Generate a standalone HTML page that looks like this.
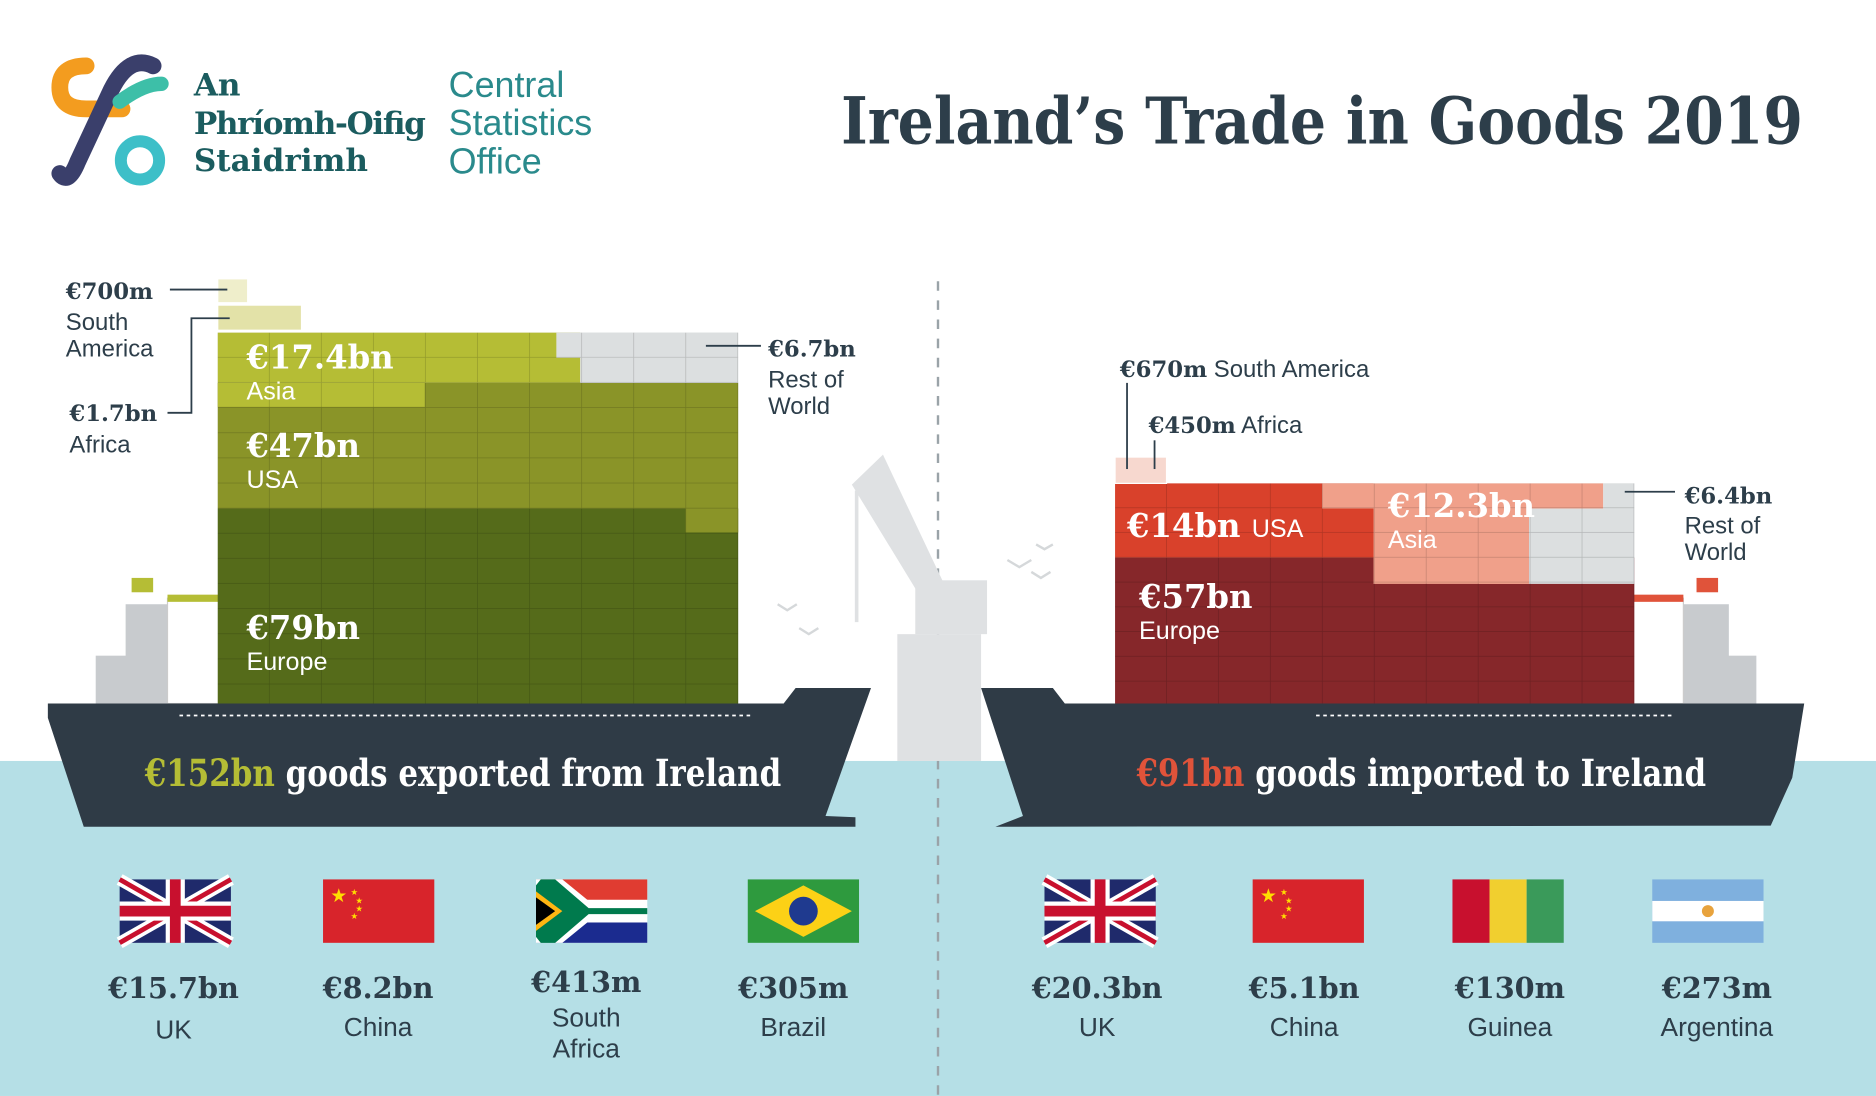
<!DOCTYPE html>
<html><head><meta charset="utf-8"><style>
html,body{margin:0;padding:0;background:#fff;}
svg{display:block}
.sl{font-family:"DejaVu Serif","Liberation Serif",serif;font-weight:bold;}
.sn{font-family:"Liberation Sans",sans-serif;}
</style></head><body>
<svg width="1876" height="1096" viewBox="0 0 1568 916" xmlns="http://www.w3.org/2000/svg">
<defs>
<pattern id="g" width="43.5" height="21" patternUnits="userSpaceOnUse" x="182" y="278">
<path d="M43.5 0V21M0 21H43.5" stroke="rgba(0,0,0,0.18)" stroke-width="1.2" fill="none"/>
</pattern>
<pattern id="r" width="43.4" height="20.7" patternUnits="userSpaceOnUse" x="932" y="404">
<path d="M43.4 0V20.7M0 20.7H43.4" stroke="rgba(0,0,0,0.18)" stroke-width="1.2" fill="none"/>
</pattern>
</defs>
<rect width="1568" height="916" fill="#fff"/>
<rect y="636" width="1568" height="280" fill="#b5dfe6"/>
<line x1="784" y1="235" x2="784" y2="916" stroke="#9aa3a8" stroke-width="2" stroke-dasharray="8,8"/>

<!-- logo -->
<path d="M72 55 q-22 0 -22 18 q0 18 22 18 h30" stroke="#f39c1f" stroke-width="14" fill="none" stroke-linecap="round"/>
<path d="M128 55 q-20 -10 -35 20 l-28 60 q-8 20 -15 10" stroke="#3a3f6b" stroke-width="14" fill="none" stroke-linecap="round"/>
<path d="M100 85 q20 -15 35 -15" stroke="#3dbfa8" stroke-width="12" fill="none" stroke-linecap="round"/>
<circle cx="117" cy="134" r="16" fill="none" stroke="#3dbfc8" stroke-width="10"/>
<g class="sl" fill="#1b5c5f" font-size="26">
<text x="162" y="80">An</text>
<text x="162" y="112" textLength="194">Phríomh-Oifig</text>
<text x="162" y="143">Staidrimh</text>
</g>
<g class="sn" fill="#2a8a8c" font-size="30">
<text x="375" y="81">Central</text>
<text x="375" y="113">Statistics</text>
<text x="375" y="145">Office</text>
</g>
<text x="703" y="120" class="sl" font-size="54" fill="#2d3e4a" textLength="804" lengthAdjust="spacingAndGlyphs">Ireland’s Trade in Goods 2019</text>

<!-- crane -->
<g fill="#dfe1e3">
<polygon points="712,405 738,380 790,490 770,500"/>
<rect x="765" y="485" width="60" height="45"/>
<rect x="750" y="530" width="70" height="106"/>
<line x1="716" y1="410" x2="716" y2="520" stroke="#dfe1e3" stroke-width="3"/>
</g>
<g fill="none" stroke="#d5d8da" stroke-width="2">
<path d="M650 505 l8 5 l8 -5"/><path d="M668 525 l8 5 l8 -5"/>
<path d="M842 468 l10 6 l10 -6"/><path d="M862 478 l8 5 l8 -5"/><path d="M866 455 l7 4 l7 -4"/>
</g>

<!-- export ship superstructure -->
<rect x="80" y="548" width="30" height="40" fill="#c8cbce"/>
<rect x="105" y="505" width="40" height="83" fill="#c8cbce"/>
<rect x="140" y="500" width="45" height="88" fill="#fff" stroke="#ccc"/>
<rect x="110" y="483" width="18" height="12" fill="#b5bd35"/>
<rect x="140" y="497" width="45" height="6" fill="#b5bd35"/>
<!-- export containers -->
<rect x="182" y="425" width="435" height="167" fill="#556b1a"/>
<rect x="573" y="425" width="44" height="20" fill="#8a9428"/>
<rect x="182" y="320" width="435" height="105" fill="#8a9428"/>
<rect x="182" y="278" width="303" height="42" fill="#b5bd35"/>
<rect x="182" y="320" width="173" height="20" fill="#b5bd35"/>
<rect x="465" y="278" width="152" height="21" fill="#dcdfe0"/>
<rect x="485" y="299" width="132" height="21" fill="#dcdfe0"/>
<rect x="182" y="278" width="435" height="314" fill="url(#g)"/>
<rect x="182" y="255" width="70" height="21" fill="#e3e2a8" stroke="#fff"/>
<rect x="182" y="233" width="25" height="20" fill="#efeecb" stroke="#fff"/>
<!-- export hull -->
<polygon points="40,588 655,588 665,575 728,575 690,682 715,683 715,691 70,691 40,600" fill="#2f3b46"/>
<line x1="150" y1="598" x2="630" y2="598" stroke="#fff" stroke-width="1.5" stroke-dasharray="3,3"/>
<text x="387" y="657" class="sl" font-size="31" text-anchor="middle" fill="#fff" textLength="532" lengthAdjust="spacingAndGlyphs"><tspan fill="#b5bd35">€152bn</tspan> goods exported from Ireland</text>
<!-- export labels -->
<g fill="#fff">
<text x="206" y="308" class="sl" font-size="27">€17.4bn</text>
<text x="206" y="334" class="sn" font-size="21">Asia</text>
<text x="206" y="382" class="sl" font-size="27">€47bn</text>
<text x="206" y="408" class="sn" font-size="21">USA</text>
<text x="206" y="534" class="sl" font-size="27">€79bn</text>
<text x="206" y="560" class="sn" font-size="21">Europe</text>
</g>
<g fill="#2d3e4a" stroke="#2d3e4a" stroke-width="1.5">
<line x1="142" y1="242" x2="190" y2="242"/>
<polyline points="140,345 160,345 160,266 192,266" fill="none"/>
<line x1="590" y1="289" x2="636" y2="289"/>
</g>
<g fill="#2d3e4a">
<text x="55" y="250" class="sl" font-size="19">€700m</text>
<text x="55" y="276" class="sn" font-size="20">South</text>
<text x="55" y="298" class="sn" font-size="20">America</text>
<text x="58" y="352" class="sl" font-size="19">€1.7bn</text>
<text x="58" y="378" class="sn" font-size="20">Africa</text>
<text x="642" y="298" class="sl" font-size="19">€6.7bn</text>
<text x="642" y="324" class="sn" font-size="20">Rest of</text>
<text x="642" y="346" class="sn" font-size="20">World</text>
</g>

<!-- import ship superstructure -->
<rect x="1440" y="548" width="28" height="40" fill="#c8cbce"/>
<rect x="1405" y="505" width="40" height="83" fill="#c8cbce"/>
<rect x="1362" y="500" width="45" height="88" fill="#fff" stroke="#ccc"/>
<rect x="1418" y="483" width="18" height="12" fill="#e0533a"/>
<rect x="1362" y="497" width="45" height="6" fill="#e0533a"/>
<!-- import containers -->
<rect x="932" y="466" width="434" height="126" fill="#86272a"/>
<rect x="932" y="404" width="216" height="62" fill="#d9412b"/>
<rect x="1105" y="404" width="235" height="21" fill="#f0a08a"/>
<rect x="1148" y="425" width="130" height="63" fill="#f0a08a"/>
<rect x="1236" y="466" width="42" height="22" fill="#f0a08a"/>
<rect x="1278" y="425" width="88" height="63" fill="#dcdfe0"/>
<rect x="1340" y="404" width="26" height="21" fill="#dcdfe0"/>
<rect x="932" y="404" width="434" height="188" fill="url(#r)"/>
<rect x="932" y="382" width="43" height="22" fill="#f7d8cf" stroke="#fff"/>
<!-- import hull -->
<polygon points="820,575 880,575 890,588 1508,588 1498,650 1480,690 832,691 855,682" fill="#2f3b46"/>
<line x1="1100" y1="598" x2="1400" y2="598" stroke="#fff" stroke-width="1.5" stroke-dasharray="3,3"/>
<text x="1188" y="657" class="sl" font-size="31" text-anchor="middle" fill="#fff" textLength="476" lengthAdjust="spacingAndGlyphs"><tspan fill="#e0533a">€91bn</tspan> goods imported to Ireland</text>
<g fill="#fff">
<text x="942" y="449" class="sl" font-size="27">€14bn <tspan class="sn" font-weight="normal" font-size="21">USA</tspan></text>
<text x="1160" y="432" class="sl" font-size="27">€12.3bn</text>
<text x="1160" y="458" class="sn" font-size="21">Asia</text>
<text x="952" y="508" class="sl" font-size="27">€57bn</text>
<text x="952" y="534" class="sn" font-size="21">Europe</text>
</g>
<g stroke="#2d3e4a" stroke-width="1.5">
<line x1="942" y1="320" x2="942" y2="392"/>
<line x1="965" y1="368" x2="965" y2="392"/>
<line x1="1358" y1="411" x2="1400" y2="411"/>
</g>
<g fill="#2d3e4a">
<text x="936" y="315" class="sn" font-size="20"><tspan class="sl" font-size="19">€670m</tspan> South America</text>
<text x="960" y="362" class="sn" font-size="20"><tspan class="sl" font-size="19">€450m</tspan> Africa</text>
<text x="1408" y="421" class="sl" font-size="19">€6.4bn</text>
<text x="1408" y="446" class="sn" font-size="20">Rest of</text>
<text x="1408" y="468" class="sn" font-size="20">World</text>
</g>

<!-- flags -->
<g id="uk">
<rect x="100" y="735" width="93" height="53" fill="#1f2a6b"/>
<path d="M100 735 L193 788 M193 735 L100 788" stroke="#fff" stroke-width="10"/>
<path d="M100 735 L193 788 M193 735 L100 788" stroke="#c8102e" stroke-width="4"/>
<path d="M146.5 735 V788 M100 761.5 H193" stroke="#fff" stroke-width="16"/>
<path d="M146.5 735 V788 M100 761.5 H193" stroke="#c8102e" stroke-width="9"/>
</g>
<use href="#uk" x="773"/>
<g id="cn"><rect x="270" y="735" width="93" height="53" fill="#d8242b"/>
<text x="276" y="754" font-size="16" fill="#ffde00">★</text>
<text x="293" y="748" font-size="7" fill="#ffde00">★</text>
<text x="297" y="755" font-size="7" fill="#ffde00">★</text>
<text x="297" y="762" font-size="7" fill="#ffde00">★</text>
<text x="293" y="768" font-size="7" fill="#ffde00">★</text></g>
<use href="#cn" x="777"/>
<!-- South Africa -->
<rect x="448" y="735" width="93" height="53" fill="#fff"/>
<rect x="448" y="735" width="93" height="17" fill="#e03c31"/>
<rect x="448" y="771" width="93" height="17" fill="#1b2b8f"/>
<polygon points="448,735 470,735 497,757 541,757 541,766 497,766 470,788 448,788" fill="#fff"/>
<polygon points="448,740 452,735 464,735 492,759 541,759 541,764 492,764 464,788 452,788 448,783" fill="#007a4d"/>
<polygon points="448,745 470,761.5 448,778" fill="#ffb612"/>
<polygon points="448,750 464,761.5 448,773" fill="#000"/>
<!-- Brazil -->
<rect x="625" y="735" width="93" height="53" fill="#2e9a3e"/>
<polygon points="671.5,740 712,761.5 671.5,783 631,761.5" fill="#fcd116"/>
<circle cx="671.5" cy="761.5" r="12" fill="#1f3a8f"/>
<!-- Guinea -->
<rect x="1214" y="735" width="31" height="53" fill="#c8102e"/>
<rect x="1245" y="735" width="31" height="53" fill="#f1cf2f"/>
<rect x="1276" y="735" width="31" height="53" fill="#3a9a5a"/>
<!-- Argentina -->
<rect x="1381" y="735" width="93" height="53" fill="#7fb0de"/>
<rect x="1381" y="753" width="93" height="17" fill="#fff"/>
<circle cx="1427.5" cy="761.5" r="5" fill="#e8a33d"/>

<!-- flag labels -->
<g class="sl" font-size="24" fill="#2d3e4a" text-anchor="middle">
<text x="145" y="834">€15.7bn</text>
<text x="316" y="834">€8.2bn</text>
<text x="490" y="829">€413m</text>
<text x="663" y="834">€305m</text>
<text x="917" y="834">€20.3bn</text>
<text x="1090" y="834">€5.1bn</text>
<text x="1262" y="834">€130m</text>
<text x="1435" y="834">€273m</text>
</g>
<g class="sn" font-size="22" fill="#2d3e4a" text-anchor="middle">
<text x="145" y="868">UK</text>
<text x="316" y="866">China</text>
<text x="490" y="858">South</text>
<text x="490" y="884">Africa</text>
<text x="663" y="866">Brazil</text>
<text x="917" y="866">UK</text>
<text x="1090" y="866">China</text>
<text x="1262" y="866">Guinea</text>
<text x="1435" y="866">Argentina</text>
</g>
</svg>
</body></html>
